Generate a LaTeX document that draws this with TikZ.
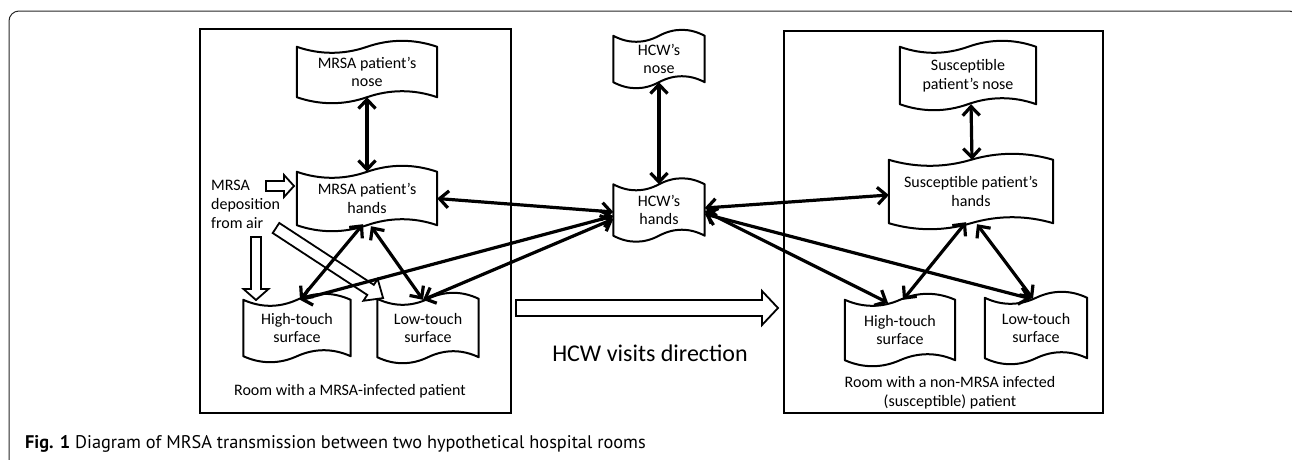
\documentclass[tikz,border=0pt]{standalone}
\usepackage{fontspec}
\setmainfont{Carlito}
\newfontfamily\capfont{PT Sans}
\usetikzlibrary{arrows.meta,calc}
\newcommand\tapenode[6]{%
  \node[tapetext, minimum width=#4pt, minimum height=#5pt] (#1) at (#2,#3) {#6};
  \draw[tapeline] (#1.north west)
    .. controls ($(#1.north west)!0.33!(#1.north)+(0,8)$) and ($(#1.north west)!0.67!(#1.north)+(0,8)$) .. (#1.north)
    .. controls ($(#1.north)!0.33!(#1.north east)+(0,-8)$) and ($(#1.north)!0.67!(#1.north east)+(0,-8)$) .. (#1.north east)
    -- (#1.south east)
    .. controls ($(#1.south east)!0.33!(#1.south)+(0,-8)$) and ($(#1.south east)!0.67!(#1.south)+(0,-8)$) .. (#1.south)
    .. controls ($(#1.south)!0.33!(#1.south west)+(0,8)$) and ($(#1.south)!0.67!(#1.south west)+(0,8)$) .. (#1.south west)
    -- cycle;}
\newcommand\blockarr[7]{%
  \begin{scope}[shift={(#1,#2)}, rotate=#3]
    \draw[blk] (0,-#5) -- ({#4-#7},-#5) -- ({#4-#7},-#6) -- (#4,0) -- ({#4-#7},#6) -- ({#4-#7},#5) -- (0,#5) -- cycle;
  \end{scope}}
\begin{document}
\begin{tikzpicture}[x=1pt,y=-1pt,
 tapetext/.style={rectangle, inner sep=0pt, align=center, font=\fontsize{16}{18.5}\selectfont},
 tapeline/.style={draw, line width=2pt, line join=round},
 link/.style={line width=3.2pt, {Straight Barb[length=9pt,width=17pt]}-{Straight Barb[length=9pt,width=17pt]}},
 blk/.style={draw, line width=1.8pt, fill=white, line join=miter},
 room/.style={draw, line width=2.2pt, inner sep=0pt},
 lbl/.style={align=center, inner sep=0pt}
]
\useasboundingbox (0,0) rectangle (1292,459);
\draw[line width=1pt, black!85, rounded corners=10pt] (9,470) -- (9,11) -- (1299,11) -- (1299,470);

% rooms
\node[room, minimum width=311pt, minimum height=384pt] (roomL) at (355.5,221) {};
\node[room, minimum width=319pt, minimum height=382pt] (roomR) at (943.5,222) {};

% tapes
\tapenode{mnose}{367}{72}{140}{50}{MRSA patient's\\nose}
\tapenode{mhands}{367}{198.5}{140}{53}{MRSA patient's\\hands}
\tapenode{mhigh}{297}{328}{107}{56}{High-touch\\surface}
\tapenode{mlow}{428}{328}{101}{58}{Low-touch\\surface}
\tapenode{hnose}{659}{59}{91}{46}{HCW's\\nose}
\tapenode{hhands}{659}{210}{91}{51}{HCW's\\hands}
\tapenode{snose}{968}{75.5}{136}{57}{Susceptible\\patient's nose}
\tapenode{shands}{971}{191.5}{164}{63}{Susceptible patient's\\hands}
\tapenode{shigh}{900}{330}{110}{60}{High-touch\\surface}
\tapenode{slow}{1036}{328}{102}{60}{Low-touch\\surface}

% labels
\node[lbl, font=\fontsize{16}{18}\selectfont] (labL) at (350,391) {Room with a MRSA-infected patient};
\node[lbl, font=\fontsize{16}{19}\selectfont] (labR) at (950,393) {Room with a non-MRSA infected\\(susceptible) patient};
\node[lbl, align=left, anchor=west, font=\fontsize{16}{19}\selectfont] (dep) at (211,204) {MRSA\\deposition\\from air};
\node[lbl, font=\fontsize{24}{28}\selectfont] (visit) at (650,353) {HCW visits direction};
\node[inner sep=0pt, anchor=base west, font=\capfont\fontsize{18.3}{22}\selectfont] (cap) at (25,448) {\textbf{Fig. 1} Diagram of MRSA transmission between two hypothetical hospital rooms};

% block arrows: tail x, tail y, angle, length, shaft half, head half, head length
\blockarr{266}{186}{0}{28}{5}{11}{10}
\blockarr{256}{237}{-90}{63}{5}{12.5}{11}
\blockarr{276}{228}{-33.2}{128}{6}{13}{15}
\blockarr{516}{308}{0}{262}{8}{17}{16}

% connectors
\draw[link] (mnose.south) -- (mhands.north);
\draw[link] (mhands.east) -- ([yshift=-2pt]hhands.west);
\draw[link] ([xshift=3pt]mhigh.north) -- ([yshift=-6pt]hhands.west);
\draw[link] ([xshift=-5pt,yshift=-1pt]mlow.north) -- ([yshift=-9pt]hhands.west);
\draw[link] ([xshift=-4pt,yshift=1pt]mhands.south) -- ([xshift=3pt]mhigh.north);
\draw[link] ([xshift=4pt,yshift=-1pt]mhands.south) -- ([xshift=-5pt,yshift=-1pt]mlow.north);
\draw[link] (hnose.south) -- (hhands.north);
\draw[link] ([yshift=2pt]hhands.east) -- ([yshift=-3.5pt]shands.west);
\draw[link] ([yshift=-1pt]hhands.east) -- ([xshift=-12pt,yshift=-3pt]shigh.north);
\draw[link] ([yshift=-4pt]hhands.east) -- ([xshift=-5pt,yshift=-1pt]slow.north);
\draw[link] ([xshift=3pt]snose.south) -- ([xshift=1pt]shands.north);
\draw[link] ([xshift=-5pt,yshift=1pt]shands.south) -- ([xshift=3pt]shigh.north);
\draw[link] ([xshift=6pt,yshift=-1pt]shands.south) -- ([xshift=-3pt,yshift=-1pt]slow.north);
\end{tikzpicture}
\end{document}
